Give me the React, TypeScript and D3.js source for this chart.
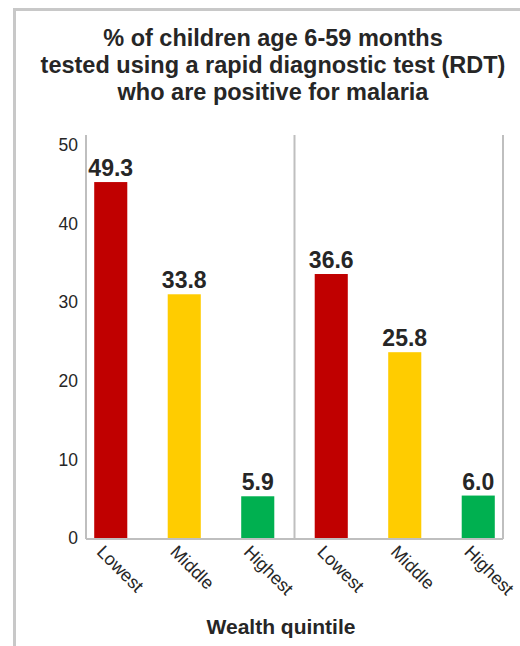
import React from "react";
import * as d3 from "d3";

const titleLines = [
  "% of children age 6-59 months",
  "tested using a rapid diagnostic test (RDT)",
  "who are positive for malaria",
];
const categories = ["Lowest", "Middle", "Highest", "Lowest", "Middle", "Highest"];
const values = [49.3, 33.8, 5.9, 36.6, 25.8, 6.0];
const colors = ["#C00000", "#FFCC00", "#00B050", "#C00000", "#FFCC00", "#00B050"];
const yTicks = [0, 10, 20, 30, 40, 50];
const xTitle = "Wealth quintile";

const W = 520;
const H = 646;
const plotLeft = 86;
const plotRight = 503;
const plotTop = 135;
const plotBottom = 539;
const font = "'Liberation Sans', Arial, sans-serif";
const textColor = "#262626";
const axisColor = "#bfbfbf";

export default function App() {
  const ids = categories.map((_, i) => String(i));
  const x = d3.scaleBand<string>().domain(ids).range([74, 515]).paddingInner(0.55).paddingOuter(0.275);
  const y = d3.scaleLinear().domain([0, 55.8]).range([plotBottom, plotTop]);
  const yAxis = d3.scaleLinear().domain([0, 50]).range([plotBottom - 1, 145]);
  const divider = (x(ids[2])! + x.bandwidth() + x(ids[3])!) / 2;

  return (
    <svg
      width={W}
      height={H}
      style={{ position: "absolute", left: 0, top: 0, background: "#fff" }}
    >
      <rect x={0} y={0} width={W} height={H} fill="#fff" />
      <line x1={13} x2={W} y1={9.5} y2={9.5} stroke="#c8c8c8" strokeWidth={3} />
      <line x1={14.5} x2={14.5} y1={8} y2={H} stroke="#c8c8c8" strokeWidth={3} />

      {titleLines.map((t, i) => (
        <text
          key={i}
          x={273}
          y={46 + i * 27}
          textAnchor="middle"
          fontFamily={font}
          fontWeight="bold"
          fontSize={23.5}
          fill={textColor}
        >
          {t}
        </text>
      ))}

      {yTicks.map((t) => (
        <text
          key={t}
          x={78}
          y={yAxis(t)}
          dy="0.35em"
          textAnchor="end"
          fontFamily={font}
          fontSize={17.5}
          fill={textColor}
        >
          {t}
        </text>
      ))}

      {values.map((v, i) => (
        <g key={i}>
          <rect
            x={x(ids[i])}
            y={y(v)}
            width={x.bandwidth()}
            height={plotBottom - y(v)}
            fill={colors[i]}
          />
          <text
            x={x(ids[i])! + x.bandwidth() / 2}
            y={y(v) - 6}
            textAnchor="middle"
            fontFamily={font}
            fontWeight="bold"
            fontSize={23}
            fill={textColor}
          >
            {v.toFixed(1)}
          </text>
          <text
            transform={`translate(${x(ids[i])! + x.bandwidth() / 2 - 15},${plotBottom + 14}) rotate(45)`}
            fontFamily={font}
            fontSize={18}
            fill={textColor}
          >
            {categories[i]}
          </text>
        </g>
      ))}

      <line x1={plotLeft} x2={plotLeft} y1={plotTop} y2={plotBottom} stroke={axisColor} strokeWidth={2} />
      <line x1={divider} x2={divider} y1={plotTop} y2={plotBottom} stroke={axisColor} strokeWidth={2} />
      <line x1={plotRight} x2={plotRight} y1={plotTop} y2={plotBottom} stroke={axisColor} strokeWidth={2} />
      <line x1={plotLeft} x2={plotRight} y1={plotBottom} y2={plotBottom} stroke={axisColor} strokeWidth={2} />

      <text
        x={281}
        y={634}
        textAnchor="middle"
        fontFamily={font}
        fontWeight="bold"
        fontSize={21}
        fill={textColor}
      >
        {xTitle}
      </text>
    </svg>
  );
}
